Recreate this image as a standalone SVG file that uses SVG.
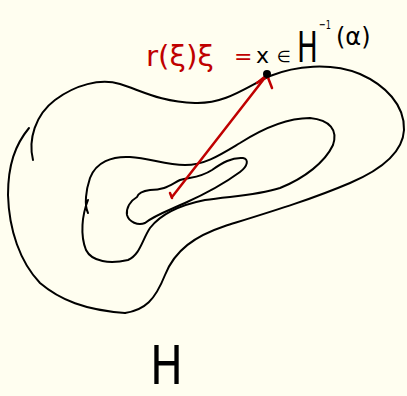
<svg xmlns="http://www.w3.org/2000/svg" width="407" height="396" viewBox="0 0 407 396">
<style>
.k{fill:none;stroke:#000;stroke-width:2;stroke-linecap:round;stroke-linejoin:round}
.r{fill:none;stroke:#c00000;stroke-width:2.5;stroke-linecap:round;stroke-linejoin:round}
.tb{font-family:"DejaVu Sans",sans-serif;fill:#000}
.tr{font-family:"DejaVu Sans",sans-serif;fill:#c00000}
</style>
<rect width="407" height="396" fill="#fffef0"/>
<g id="outer">
<path class="k" d="M33,160 C28,140 35,115 55,100 C75,85 100,78 120,84 C140,90 160,102 195,103 C225,104 245,88 270,76 C295,66 330,62 360,74 C385,85 405,105 404,130 C403,150 385,168 350,183 C310,200 270,212 225,226 C195,236 175,250 165,275 C155,300 145,310 125,313"/>
<path class="k" d="M29,128 C15,145 8,165 8,195 C9,230 20,262 40,283 C60,300 85,310 125,313"/>
</g>
<g id="middle">
<path class="k" d="M88,213 C84,205 86,190 90,178 C96,162 112,156 130,157 C150,158 165,165 185,165 C205,165 220,155 240,143 C262,129 285,118 310,118 C330,120 338,130 333,145 C325,162 305,178 280,188 C255,196 230,196 205,200 C180,205 160,215 150,228 C142,240 140,255 128,260 C110,264 92,262 86,250 C80,235 82,215 88,200"/>
</g>
<g id="inner">
<path class="k" d="M137,197 C130,201 126,208 127,215 C129,222 138,226 145,223 C155,215 170,210 185,203 C205,194 225,183 240,172 C248,166 249,159 243,158 C232,157 222,163 212,170 C200,178 190,177 180,180 C170,185 165,190 150,190 C143,191 138,194 137,197"/>
</g>
<g id="connectors">
<path class="r" d="M172,197 L267,75"/>
<path class="r" d="M257,83 L267,75 L272,88"/>
<path class="r" d="M170,193 L172,198"/>
</g>
<g id="point">
<circle cx="267" cy="74" r="4" fill="#000"/>
</g>
<g id="labels">
<text class="tr" x="146" y="66" font-size="28" textLength="68" lengthAdjust="spacingAndGlyphs">r(ξ)ξ</text>
<text class="tr" x="234" y="64" font-size="22">=</text>
<text class="tb" x="256" y="63" font-size="22">x</text>
<text class="tb" x="277" y="62" font-size="16">∈</text>
<text class="tb" font-size="42" transform="translate(297,62) scale(0.66,1)">H</text>
<text class="tb" x="319" y="29" font-size="13" textLength="12" lengthAdjust="spacingAndGlyphs">−1</text>
<text class="tb" x="336" y="45" font-size="24">(α)</text>
<text class="tb" x="150" y="384" font-size="54" textLength="33" lengthAdjust="spacingAndGlyphs">H</text>
</g>
</svg>
